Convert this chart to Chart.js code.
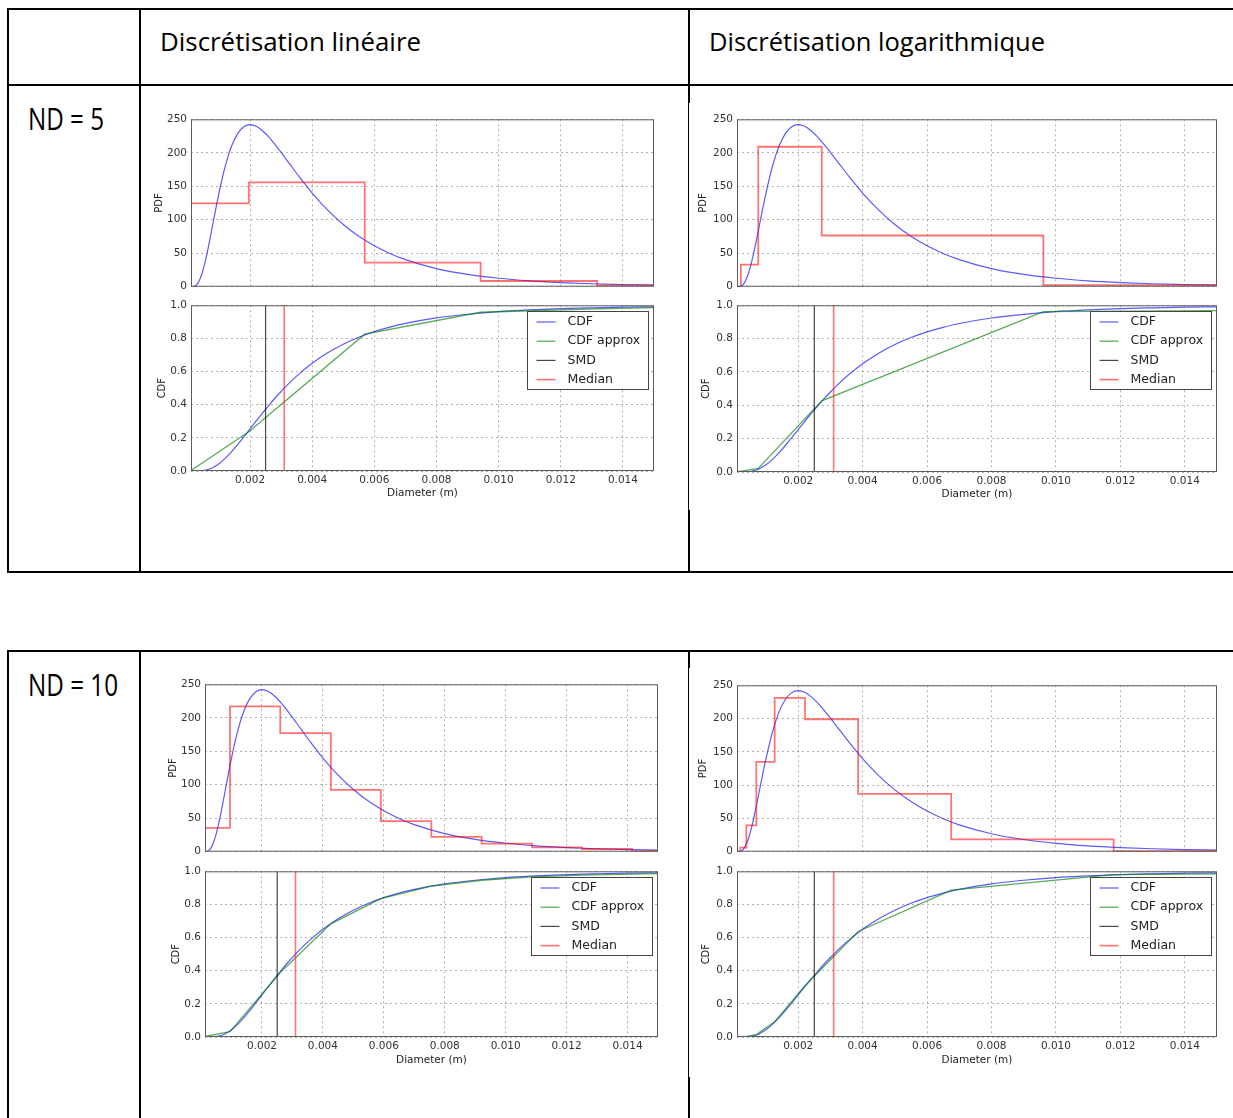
<!DOCTYPE html>
<html>
<head>
<meta charset="utf-8">
<script src="https://cdn.jsdelivr.net/npm/chart.js@4.4.1/dist/chart.umd.min.js"></script>
<style>
html, body { margin: 0; padding: 0; background: #fff; }
body { width: 1233px; height: 1118px; position: relative; overflow: hidden; }
.ln { position: absolute; background: #000; }
.txt { position: absolute; font-family: "Open Sans", sans-serif; color: #000; white-space: nowrap; line-height: 1; transform-origin: 0 0; }
canvas { position: absolute; }
</style>
</head>
<body>

<!-- table 1 -->
<div class="ln" style="left:7px;top:8px;width:1226px;height:2px"></div>
<div class="ln" style="left:7px;top:84px;width:1226px;height:2px"></div>
<div class="ln" style="left:7px;top:571px;width:1226px;height:2px"></div>
<div class="ln" style="left:7px;top:8px;width:2px;height:565px"></div>
<div class="ln" style="left:139px;top:8px;width:2px;height:565px"></div>
<div class="ln" style="left:688px;top:8px;width:2px;height:95px"></div>
<div class="ln" style="left:688px;top:103px;width:1px;height:407px"></div>
<div class="ln" style="left:688px;top:510px;width:2px;height:63px"></div>

<!-- table 2 -->
<div class="ln" style="left:7px;top:650px;width:1226px;height:2px"></div>
<div class="ln" style="left:7px;top:650px;width:2px;height:468px"></div>
<div class="ln" style="left:139px;top:650px;width:2px;height:468px"></div>
<div class="ln" style="left:688px;top:650px;width:2px;height:18px"></div>
<div class="ln" style="left:688px;top:668px;width:1px;height:409px"></div>
<div class="ln" style="left:688px;top:1077px;width:2px;height:41px"></div>

<div class="txt" data-w="261" style="left:160px;top:29px;font-size:25.5px">Discrétisation linéaire</div>
<div class="txt" data-w="336" style="left:709px;top:29px;font-size:25.5px">Discrétisation logarithmique</div>
<div class="txt" data-w="76" style="left:28px;top:103px;font-size:31px">ND = 5</div>
<div class="txt" data-w="90" style="left:28px;top:669px;font-size:31px">ND = 10</div>

<script>
// true distribution (same in every panel)
const diameter = [0.0001, 0.0002, 0.0003, 0.0004, 0.0005, 0.0006, 0.0007, 0.0008, 0.0009, 0.001,
  0.0012, 0.0014, 0.0016, 0.0018, 0.002, 0.0022, 0.0024, 0.0026, 0.0028, 0.003,
  0.0033, 0.0036, 0.004, 0.0045, 0.005, 0.0055, 0.006, 0.0065, 0.007, 0.008,
  0.009, 0.010, 0.011, 0.012, 0.013, 0.014, 0.015];
const pdfTrue = [0, 0.6, 4, 12.6, 27, 46.4, 68.8, 92.9, 117, 139.9,
  179.7, 209.3, 228.7, 239, 242.1, 239.5, 233, 223.7, 212.7, 200.6,
  181.8, 163.2, 139.9, 114.3, 92.9, 75.3, 61.1, 49.6, 40.4, 27,
  18.3, 12.6, 8.8, 6.2, 4.4, 3.2, 2.4];
const cdfTrue = [0, 0, 0.0002, 0.001, 0.003, 0.007, 0.012, 0.020, 0.031, 0.044,
  0.076, 0.115, 0.159, 0.206, 0.254, 0.302, 0.350, 0.395, 0.439, 0.480,
  0.538, 0.589, 0.650, 0.713, 0.765, 0.807, 0.841, 0.868, 0.891, 0.924,
  0.946, 0.962, 0.972, 0.980, 0.985, 0.989, 0.991];

const smdDiameter = 0.0025;
const medianDiameter = 0.0031;

const xTicks = [0.002, 0.004, 0.006, 0.008, 0.010, 0.012, 0.014];
const pdfTicks = [0, 50, 100, 150, 200, 250];
const cdfTicks = [0, 0.2, 0.4, 0.6, 0.8, 1.0];
const xMax = 0.015;

// linear discretisation, ND = 5
const edgesLin5 = [0.0001, 0.00196, 0.00569, 0.00942, 0.01317, 0.015];
const pdfLin5 = [124.5, 155.8, 36, 8.5, 2];
const cdfApproxLin5 = [0.003, 0.237, 0.826, 0.958, 0.979, 0.986];

// log discretisation, ND = 5
const edgesLog5 = [0.0001, 0.00022, 0.00076, 0.00273, 0.00961, 0.015];
const pdfLog5 = [0, 33, 209, 76.5, 2.5];
const cdfApproxLog5 = [0.004, 0.005, 0.022, 0.427, 0.962, 0.968];

// linear discretisation, ND = 10
const edgesLin10 = [0.00013, 0.00095, 0.0026, 0.00426, 0.0059, 0.00756, 0.00921, 0.01087, 0.01251, 0.01415, 0.015];
const pdfLin10 = [35.6, 216.9, 177.2, 92.4, 45.7, 22, 12, 6.5, 4, 0.8];
const cdfApproxLin10 = [0.003, 0.032, 0.389, 0.683, 0.835, 0.91, 0.946, 0.966, 0.977, 0.983, 0.986];

// log discretisation, ND = 10
const edgesLog10 = [0.0001, 0.0002, 0.00039, 0.0007, 0.00127, 0.00221, 0.00386, 0.00675, 0.01179, 0.015];
const pdfLog10 = [0, 6, 39.7, 135, 231, 199, 86.8, 18.6, 1];
const cdfApproxLog10 = [0.002, 0.002, 0.003, 0.015, 0.092, 0.309, 0.637, 0.886, 0.98, 0.984];

// where each pair of plots sits on the page
const panels = [
  {edges: edgesLin5, pdf: pdfLin5, cdf: cdfApproxLin5, xMin: 0.0001,
   left: 191, right: 654, pdfTop: 119, pdfBottom: 286, cdfTop: 305, cdfBottom: 471, xlabelY: 493, gapPdf: 32, gapCdf: 29},
  {edges: edgesLog5, pdf: pdfLog5, cdf: cdfApproxLog5, xMin: 0.0001,
   left: 737, right: 1217, pdfTop: 119, pdfBottom: 286, cdfTop: 305, cdfBottom: 472, xlabelY: 494, gapPdf: 34, gapCdf: 31},
  {edges: edgesLin10, pdf: pdfLin10, cdf: cdfApproxLin10, xMin: 0.00013,
   left: 205, right: 658, pdfTop: 684, pdfBottom: 851, cdfTop: 871, cdfBottom: 1037, xlabelY: 1060, gapPdf: 32, gapCdf: 29},
  {edges: edgesLog10, pdf: pdfLog10, cdf: cdfApproxLog10, xMin: 0.0001,
   left: 737, right: 1217, pdfTop: 685, pdfBottom: 851, cdfTop: 871, cdfBottom: 1037, xlabelY: 1060, gapPdf: 34, gapCdf: 31}
];

const COLORS = {
  blue: 'rgba(0,0,255,0.65)',
  red: 'rgba(255,0,0,0.55)',
  green: 'rgba(0,128,0,0.65)',
  smd: 'rgba(0,0,0,0.72)',
  grid: 'rgba(0,0,0,0.3)',
  frame: '#5c5c5c'
};

Chart.defaults.font.family = '"DejaVu Sans", sans-serif';
Chart.defaults.color = '#333';
Chart.defaults.elements.point.radius = 0;

// box round the plot area, like matplotlib spines
const frame = {
  id: 'frame',
  afterDatasetsDraw(chart) {
    const a = chart.chartArea, ctx = chart.ctx;
    ctx.save();
    ctx.strokeStyle = COLORS.frame;
    ctx.lineWidth = 1;
    ctx.strokeRect(a.left + 0.5, a.top + 0.5, a.right - a.left - 1, a.bottom - a.top - 1);
    ctx.restore();
  }
};

// legend box in the upper right corner of the plot
const boxLegend = {
  id: 'boxLegend',
  afterDraw(chart, args, opts) {
    if (!opts.show) return;
    const ctx = chart.ctx, a = chart.chartArea;
    const sets = chart.data.datasets;
    ctx.save();
    ctx.font = '12.5px "DejaVu Sans"';
    const tw = Math.max(...sets.map(d => ctx.measureText(d.label).width));
    const w = Math.round(40 + tw + 8), h = 78;
    const x0 = Math.round(a.right - 6 - w) + 0.5, y0 = Math.round(a.top + 6) + 0.5;
    ctx.fillStyle = '#fff';
    ctx.fillRect(x0, y0, w, h);
    ctx.strokeStyle = '#444';
    ctx.lineWidth = 1;
    ctx.strokeRect(x0, y0, w, h);
    sets.forEach((d, i) => {
      const y = y0 + 10.5 + i * 19.2;
      ctx.strokeStyle = d.borderColor;
      ctx.lineWidth = d.borderWidth;
      ctx.beginPath();
      ctx.moveTo(x0 + 9, y);
      ctx.lineTo(x0 + 28, y);
      ctx.stroke();
      ctx.fillStyle = '#222';
      ctx.textBaseline = 'middle';
      ctx.fillText(d.label, x0 + 40, y);
    });
    ctx.restore();
  }
};

function makeCanvas(left, top, w, h) {
  const c = document.createElement('canvas');
  c.width = w;
  c.height = h;
  c.style.left = left + 'px';
  c.style.top = top + 'px';
  document.body.appendChild(c);
  return c;
}

// move and resize the canvas so that the plot area lands on the wanted box
function pinArea(chart, canvas, L, T, R, B) {
  const a = chart.chartArea;
  const w = Math.round(chart.width + (R - L) - (a.right - a.left));
  const h = Math.round(chart.height + (B - T) - (a.bottom - a.top));
  canvas.style.left = Math.round(L - a.left) + 'px';
  canvas.style.top = Math.round(T - a.top) + 'px';
  chart.resize(w, h);
}

function xScale(p, showLabels, xh) {
  return {
    type: 'linear', min: p.xMin, max: xMax,
    afterBuildTicks: s => { s.ticks = xTicks.map(v => ({value: v})); },
    afterFit: s => { s.height = xh; },
    grid: {color: COLORS.grid, lineWidth: 1, drawTicks: false},
    border: {display: false, dash: [2, 3]},
    ticks: {display: showLabels, padding: 3, font: {size: 10.5}, color: '#333',
      autoSkip: false, maxRotation: 0, callback: v => v.toFixed(3)},
    title: {display: showLabels, text: 'Diameter (m)', font: {size: 10.5}, color: '#222',
      padding: {top: 0, bottom: 0}}
  };
}

function yScale(ticks, fmt, label, gap, aw) {
  return {
    type: 'linear', min: ticks[0], max: ticks[ticks.length - 1],
    afterBuildTicks: s => { s.ticks = ticks.map(v => ({value: v})); },
    afterFit: s => { s.width = aw; },
    grid: {color: COLORS.grid, lineWidth: 1, drawTicks: false},
    border: {display: false, dash: [2, 3]},
    ticks: {padding: 4, font: {size: 10.5}, color: '#333', autoSkip: false, callback: fmt},
    title: {display: true, text: label, font: {size: 10}, color: '#222',
      padding: {top: aw - gap - 6, bottom: 0}}
  };
}

function stepPoints(edges, vals) {
  return edges.map((x, i) => ({x: x, y: vals[Math.min(i, vals.length - 1)]}));
}

const AW = 42;

panels.forEach(p => {
  // PDF plot
  const padTop = 8, padBottom = 4, padRight = 4;
  const c1 = makeCanvas(p.left - AW, p.pdfTop - padTop,
    p.right - p.left + AW + padRight, p.pdfBottom - p.pdfTop + padTop + padBottom);
  const pdfChart = new Chart(c1, {
    type: 'line',
    data: {
      datasets: [
        {label: 'PDF', data: diameter.map((x, i) => ({x: x, y: pdfTrue[i]})),
         borderColor: COLORS.blue, borderWidth: 1.2, cubicInterpolationMode: 'monotone', order: 2},
        {label: 'PDF approx', data: stepPoints(p.edges, p.pdf),
         borderColor: COLORS.red, borderWidth: 1.8, stepped: true, order: 1}
      ]
    },
    options: {
      responsive: false, maintainAspectRatio: false, animation: false, events: [],
      layout: {padding: {top: padTop, bottom: padBottom, left: 0, right: padRight}},
      plugins: {legend: {display: false}, tooltip: {enabled: false}, boxLegend: {show: false}},
      scales: {
        x: xScale(p, false, 0),
        y: yScale(pdfTicks, v => String(v), 'PDF', p.gapPdf, AW)
      }
    },
    plugins: [frame, boxLegend]
  });
  pinArea(pdfChart, c1, p.left, p.pdfTop, p.right, p.pdfBottom);

  // CDF plot
  const xh = Math.round(p.xlabelY + 7.3 - p.cdfBottom);
  const c2 = makeCanvas(p.left - AW, p.cdfTop - padTop,
    p.right - p.left + AW + padRight, p.cdfBottom - p.cdfTop + padTop + xh);
  const cdfChart = new Chart(c2, {
    type: 'line',
    data: {
      datasets: [
        {label: 'CDF', data: diameter.map((x, i) => ({x: x, y: cdfTrue[i]})),
         borderColor: COLORS.blue, borderWidth: 1.2, cubicInterpolationMode: 'monotone', order: 4},
        {label: 'CDF approx', data: p.edges.map((x, i) => ({x: x, y: p.cdf[i]})),
         borderColor: COLORS.green, borderWidth: 1.3, order: 3},
        {label: 'SMD', data: [{x: smdDiameter, y: 0}, {x: smdDiameter, y: 1}],
         borderColor: COLORS.smd, borderWidth: 1.2, order: 2},
        {label: 'Median', data: [{x: medianDiameter, y: 0}, {x: medianDiameter, y: 1}],
         borderColor: COLORS.red, borderWidth: 1.6, order: 1}
      ]
    },
    options: {
      responsive: false, maintainAspectRatio: false, animation: false, events: [],
      layout: {padding: {top: padTop, bottom: 0, left: 0, right: padRight}},
      plugins: {legend: {display: false}, tooltip: {enabled: false}, boxLegend: {show: true}},
      scales: {
        x: xScale(p, true, xh),
        y: yScale(cdfTicks, v => v.toFixed(1), 'CDF', p.gapCdf, AW)
      }
    },
    plugins: [frame, boxLegend]
  });
  pinArea(cdfChart, c2, p.left, p.cdfTop, p.right, p.cdfBottom);
});

// squeeze the table texts to the widths seen in the picture
document.querySelectorAll('.txt').forEach(el => {
  const w = el.getBoundingClientRect().width;
  el.style.transform = 'scaleX(' + (Number(el.dataset.w) / w) + ')';
});
</script>
</body>
</html>
